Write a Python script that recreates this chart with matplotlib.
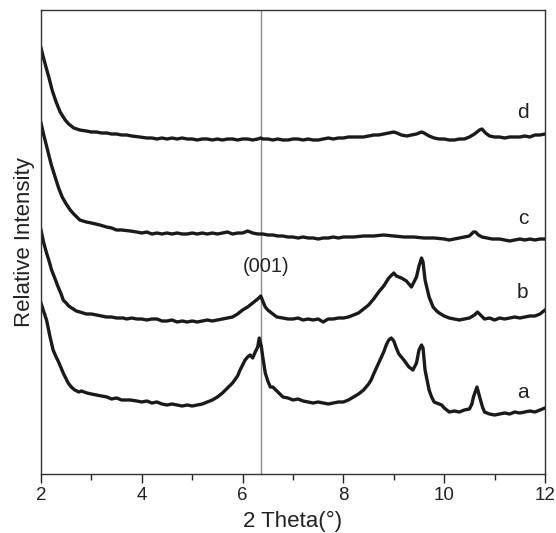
import matplotlib
matplotlib.use("Agg")
import matplotlib.pyplot as plt
from matplotlib.ticker import MultipleLocator, NullLocator

plt.rcParams['font.family'] = ['Liberation Sans', 'DejaVu Sans']

# ---- data (stacked relative intensity, arbitrary units) ----
x_a = [2.00, 2.05, 2.11, 2.18, 2.24, 2.30, 2.34, 2.40, 2.44, 2.50, 2.54, 2.60, 2.67, 2.75, 2.80, 2.91,
       3.00, 3.10, 3.20, 3.31, 3.40, 3.50, 3.60, 3.77, 3.90, 4.00, 4.10, 4.20, 4.30, 4.40, 4.50, 4.60,
       4.70, 4.80, 4.90, 5.00, 5.10, 5.20, 5.30, 5.40, 5.50, 5.60, 5.70, 5.80, 5.90, 5.95, 6.05, 6.10,
       6.15, 6.20, 6.25, 6.30, 6.33, 6.37, 6.40, 6.45, 6.50, 6.55, 6.60, 6.70, 6.80, 6.90, 7.00, 7.10,
       7.20, 7.30, 7.40, 7.50, 7.60, 7.70, 7.80, 7.90, 8.00, 8.10, 8.20, 8.30, 8.40, 8.50, 8.55, 8.60,
       8.70, 8.80, 8.85, 8.90, 8.95, 9.00, 9.05, 9.10, 9.20, 9.30, 9.38, 9.45, 9.50, 9.55, 9.58, 9.62,
       9.66, 9.70, 9.75, 9.80, 9.90, 9.95, 10.00, 10.10, 10.20, 10.30, 10.40, 10.50, 10.55, 10.58,
       10.65, 10.72, 10.76, 10.80, 10.90, 11.00, 11.10, 11.20, 11.30, 11.40, 11.50, 11.60, 11.70,
       11.80, 11.90, 12.00]
y_a = [171, 163, 154, 137, 124, 117, 113, 106, 101, 95, 91, 87, 84, 82, 83, 81,
       80, 79, 78, 77, 75, 76, 74, 74, 73, 72, 73, 71, 72, 70, 69, 70,
       69, 68, 69, 68, 69, 70, 72, 74, 77, 81, 86, 91, 98, 104, 114, 117,
       119, 116, 122, 127, 136, 128, 117, 101, 93, 87, 87, 82, 77, 76, 74, 75,
       73, 72, 71, 72, 71, 70, 71, 72, 72, 74, 77, 80, 84, 90, 94, 100,
       111, 122, 129, 134, 136, 133, 126, 120, 114, 107, 104, 111, 124, 129, 126, 104,
       94, 84, 77, 72, 70, 69, 66, 62, 63, 62, 64, 65, 70, 77,
       87, 74, 67, 62, 60, 59, 60, 61, 60, 62, 61, 62, 63,
       62, 64, 66]

x_b = [2.00, 2.05, 2.11, 2.16, 2.21, 2.28, 2.34, 2.40, 2.44, 2.50, 2.55, 2.61, 2.70, 2.77, 2.90, 3.00,
       3.10, 3.20, 3.30, 3.40, 3.50, 3.63, 3.70, 3.80, 3.90, 4.00, 4.10, 4.20, 4.30, 4.40, 4.50, 4.60,
       4.70, 4.80, 4.90, 5.00, 5.10, 5.20, 5.30, 5.40, 5.50, 5.60, 5.70, 5.80, 5.90, 6.00, 6.10, 6.20,
       6.30, 6.36, 6.40, 6.45, 6.50, 6.60, 6.68, 6.80, 6.90, 7.00, 7.10, 7.20, 7.30, 7.40, 7.50, 7.60,
       7.70, 7.80, 7.90, 8.00, 8.10, 8.20, 8.30, 8.40, 8.50, 8.60, 8.70, 8.80, 8.85, 8.90, 9.00, 9.05,
       9.15, 9.25, 9.35, 9.40, 9.45, 9.50, 9.55, 9.58, 9.62, 9.70, 9.78, 9.85, 9.90, 10.00, 10.10,
       10.20, 10.30, 10.40, 10.50, 10.60, 10.66, 10.72, 10.80, 10.90, 11.00, 11.10, 11.20, 11.30,
       11.40, 11.50, 11.60, 11.70, 11.80, 11.90, 12.00]
y_b = [244, 232, 221, 213, 204, 195, 187, 180, 174, 171, 168, 166, 163, 162, 160, 160,
       159, 158, 157, 157, 156, 156, 155, 156, 155, 155, 154, 155, 155, 153, 153, 154,
       152, 153, 152, 153, 152, 153, 154, 153, 154, 155, 156, 157, 160, 164, 167, 171,
       175, 178, 173, 167, 164, 160, 157, 156, 155, 155, 156, 154, 155, 154, 155, 152,
       155, 155, 156, 156, 157, 159, 161, 165, 169, 175, 182, 188, 192, 196, 201, 198,
       196, 193, 187, 192, 197, 208, 216, 212, 194, 177, 167, 163, 161, 158, 156,
       155, 154, 155, 156, 159, 162, 159, 155, 156, 154, 156, 155, 156,
       157, 156, 157, 158, 158, 160, 164]

x_c = [2.00, 2.05, 2.10, 2.14, 2.20, 2.28, 2.35, 2.42, 2.50, 2.58, 2.65, 2.77, 2.90, 3.00, 3.17, 3.30,
       3.40, 3.50, 3.60, 3.77, 3.90, 4.00, 4.10, 4.20, 4.30, 4.40, 4.50, 4.60, 4.70, 4.80, 4.90, 5.00,
       5.10, 5.20, 5.30, 5.40, 5.50, 5.60, 5.70, 5.80, 5.90, 6.00, 6.10, 6.20, 6.30, 6.40, 6.50, 6.60,
       6.70, 6.80, 6.90, 7.00, 7.10, 7.20, 7.30, 7.40, 7.50, 7.60, 7.70, 7.80, 7.90, 8.00, 8.20, 8.40,
       8.60, 8.80, 9.00, 9.20, 9.40, 9.60, 9.80, 10.00, 10.10, 10.20, 10.30, 10.40, 10.50, 10.58,
       10.62, 10.68, 10.75, 10.85, 10.95, 11.10, 11.20, 11.30, 11.40, 11.50, 11.60, 11.70, 11.80,
       11.90, 12.00]
y_c = [351, 340, 330, 322, 310, 297, 286, 277, 270, 264, 260, 254, 252, 251, 249, 247,
       246, 244, 244, 243, 242, 241, 242, 240, 241, 240, 241, 240, 241, 240, 240, 241,
       240, 241, 240, 241, 240, 241, 242, 240, 241, 241, 243, 241, 240, 240, 239, 239,
       238, 238, 237, 237, 236, 237, 236, 236, 235, 236, 236, 237, 236, 237, 237, 238,
       238, 239, 238, 237, 237, 236, 236, 235, 234, 235, 236, 237, 238, 242,
       242, 239, 237, 236, 235, 235, 234, 233, 234, 235, 234, 235, 234,
       235, 235]

x_d = [2.00, 2.05, 2.11, 2.17, 2.22, 2.30, 2.38, 2.48, 2.55, 2.65, 2.77, 2.90, 3.00, 3.10, 3.20, 3.31,
       3.40, 3.50, 3.60, 3.70, 3.80, 3.96, 4.10, 4.20, 4.30, 4.40, 4.50, 4.60, 4.70, 4.80, 4.90, 5.00,
       5.10, 5.20, 5.30, 5.40, 5.50, 5.60, 5.70, 5.80, 5.90, 6.00, 6.10, 6.20, 6.30, 6.36, 6.40, 6.50,
       6.60, 6.70, 6.80, 6.90, 7.00, 7.10, 7.20, 7.30, 7.40, 7.50, 7.60, 7.70, 7.80, 7.90, 8.00, 8.10,
       8.20, 8.30, 8.40, 8.50, 8.60, 8.70, 8.80, 8.90, 9.00, 9.06, 9.15, 9.26, 9.35, 9.45, 9.55, 9.60,
       9.70, 9.80, 9.90, 10.00, 10.10, 10.20, 10.30, 10.40, 10.50, 10.60, 10.70, 10.75, 10.82, 10.90,
       11.00, 11.10, 11.20, 11.30, 11.40, 11.50, 11.60, 11.70, 11.80, 11.90, 12.00]
y_d = [426, 416, 405, 394, 384, 372, 362, 354, 350, 346, 344, 343, 342, 342, 341, 341,
       340, 340, 339, 339, 338, 337, 336, 336, 335, 336, 335, 336, 335, 336, 335, 335,
       334, 335, 335, 334, 335, 334, 335, 335, 334, 335, 335, 334, 335, 336, 335, 335,
       334, 335, 334, 334, 335, 335, 334, 335, 334, 334, 335, 336, 335, 336, 336, 337,
       337, 337, 337, 338, 339, 339, 340, 341, 342, 341, 339, 338, 339, 340, 342, 341,
       338, 336, 335, 335, 334, 334, 335, 335, 337, 340, 344, 345, 341, 338,
       337, 337, 336, 337, 337, 337, 338, 337, 339, 339, 340]

series = [("a", x_a, y_a), ("b", x_b, y_b), ("c", x_c, y_c), ("d", x_d, y_d)]
label_y = {"a": 82, "b": 181, "c": 256, "d": 362}
peak_pos = 6.36
peak_label = "(001)"

fig = plt.figure(figsize=(5.56, 5.33), dpi=100)
ax = fig.add_axes([41/556, 59/533, 504/556, 464/533])

ax.axvline(peak_pos, color='#8c8c8c', lw=1.0, zorder=1)
for name, xs, ys in series:
    ax.plot(xs, ys, color='#1a1a1a', lw=2.4, solid_joinstyle='round', zorder=2)
    ax.text(11.56, label_y[name], name, fontsize=15, ha='center', va='center', color='#222222')

ax.text(6.47, 207, peak_label, fontsize=14.5, ha='center', va='center', color='#222222')

ax.set_xlim(2, 12)
ax.set_ylim(0, 464)
ax.xaxis.set_major_locator(MultipleLocator(2))
ax.xaxis.set_minor_locator(MultipleLocator(1))
ax.yaxis.set_major_locator(NullLocator())
ax.tick_params(axis='x', which='major', direction='out', length=6.5, width=1, labelsize=13.5, pad=3, colors='#222222')
ax.tick_params(axis='x', which='minor', direction='out', length=4, width=1, colors='#222222')
for s in ax.spines.values():
    s.set_linewidth(1.0)
    s.set_color('#333333')

ax.set_xlabel("2 Theta(°)", fontsize=16, labelpad=5, color='#222222')
ax.set_ylabel("Relative Intensity", fontsize=16, labelpad=4, color='#222222')

fig.savefig("out.png", dpi=100)
